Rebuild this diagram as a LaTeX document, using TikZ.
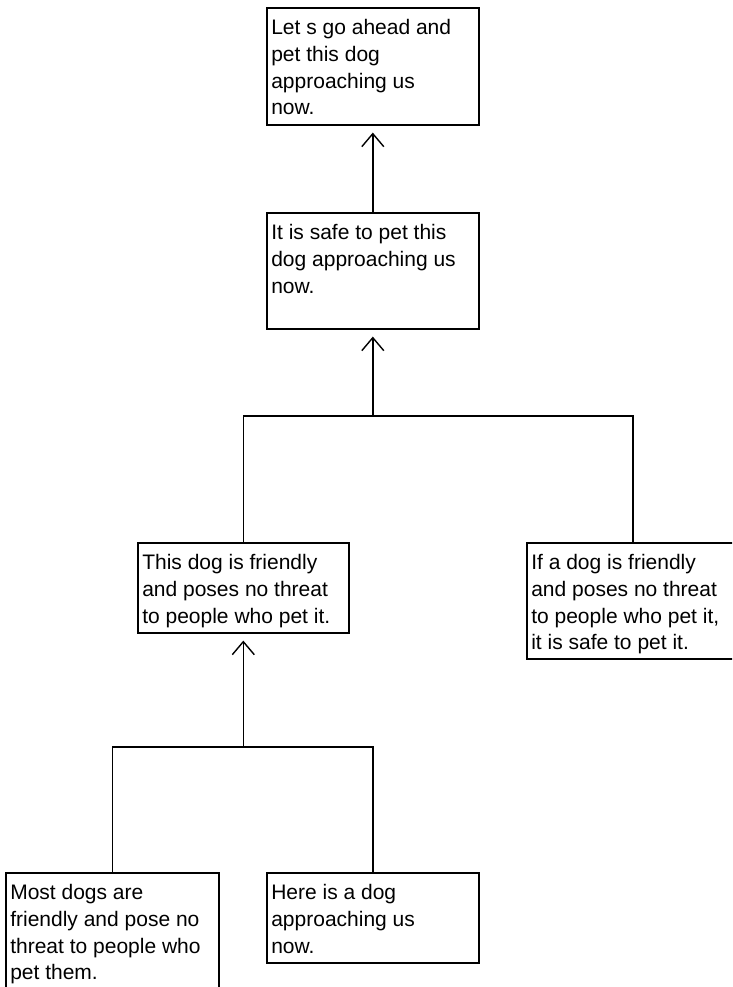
\documentclass[tikz,border=0pt]{standalone}
\usepackage{fontspec}
\setmainfont{Liberation Sans}
\usetikzlibrary{arrows.meta}
\newcommand\boxtxt[3]{\parbox[t][#2][t]{#1}{\fontsize{21}{26.7}\selectfont\raggedright\leftskip=4.5pt\rule{0pt}{27pt}#3}}
\tikzset{
  argbox/.style={draw=black, line width=1.6pt, inner sep=0pt, anchor=north west, fill=white},
  link/.style={line width=1.6pt, draw=black},
  support/.style={link, -{Straight Barb[length=13pt,width=22pt,line width=1.4pt]}, shorten >=7pt}
}
\begin{document}
\begin{tikzpicture}[x=1pt,y=-1pt]
\useasboundingbox (0,0) rectangle (732,987);
\clip (0,0) rectangle (732,987);
\fill[white] (0,0) rectangle (732,987);
\node[argbox] (b1) at (266,7) {\boxtxt{212pt}{117pt}{Let s go ahead and\\pet this dog\\approaching us\\now.}};
\node[argbox] (b2) at (266,212) {\boxtxt{212pt}{116pt}{It is safe to pet this\\dog approaching us\\now.}};
\node[argbox] (b3) at (137,542) {\boxtxt{211pt}{90pt}{This dog is friendly\\and poses no threat\\to people who pet it.}};
\node[argbox] (b4) at (526,542) {\boxtxt{212pt}{116pt}{If a dog is friendly\\and poses no threat\\to people who pet it,\\it is safe to pet it.}};
\node[argbox] (b5) at (5,872) {\boxtxt{213pt}{135pt}{Most dogs are\\friendly and pose no\\threat to people who\\pet them.}};
\node[argbox] (b6) at (266,872) {\boxtxt{212pt}{90pt}{Here is a dog\\approaching us\\now.}};
\coordinate (j1) at (b2.south |- 0,416);
\coordinate (j2) at (b3.south |- 0,747);
\draw[support] (b2.north) -- (b1.south);
\draw[link] (b3.north) |- (j1) -| (b4.north);
\draw[support] (j1) -- (b2.south);
\draw[link] (b5.north) |- (j2) -| (b6.north);
\draw[support] (j2) -- (b3.south);
\end{tikzpicture}
\end{document}
